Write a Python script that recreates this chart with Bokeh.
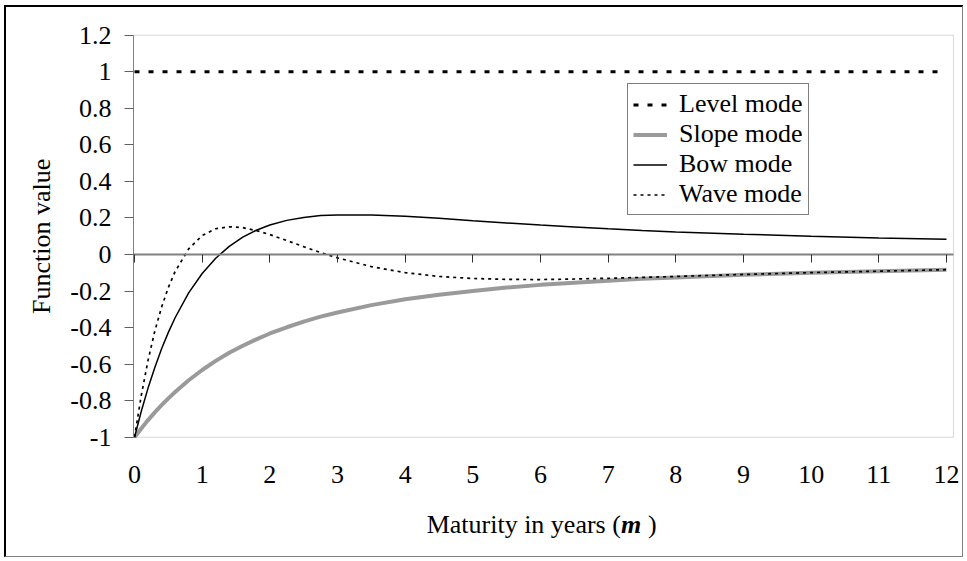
from math import pi
from bokeh.plotting import figure
from bokeh.models import (Range1d, FixedTicker, Legend, LegendItem, Label,
                          LinearAxis, BoxAnnotation)
from bokeh.embed import file_html
from bokeh.resources import INLINE

# ---- data ----
maturity = [0, 0.1, 0.2, 0.3, 0.4, 0.5, 0.6, 0.8, 1.0, 1.2, 1.4, 1.6, 1.8, 2.0,
            2.25, 2.5, 2.75, 3.0, 3.5, 4.0, 4.5, 5.0, 5.5, 6.0, 6.5, 7.0, 7.5,
            8, 9, 10, 11, 12]
slope = [-1.0, -0.952, -0.906, -0.864, -0.824, -0.787, -0.752, -0.688, -0.632,
         -0.582, -0.538, -0.499, -0.464, -0.432, -0.398, -0.367, -0.340, -0.317,
         -0.277, -0.245, -0.220, -0.199, -0.181, -0.166, -0.154, -0.143, -0.133,
         -0.125, -0.111, -0.100, -0.091, -0.083]
bow = [-1.0, -0.858, -0.731, -0.618, -0.516, -0.426, -0.346, -0.210, -0.104,
       -0.020, 0.045, 0.095, 0.133, 0.162, 0.187, 0.203, 0.213, 0.217, 0.217,
       0.209, 0.198, 0.185, 0.173, 0.161, 0.151, 0.141, 0.132, 0.124, 0.111,
       0.100, 0.091, 0.083]
wave = [-1.0, -0.771, -0.579, -0.419, -0.288, -0.180, -0.093, 0.031, 0.104,
        0.141, 0.152, 0.147, 0.131, 0.109, 0.077, 0.043, 0.011, -0.018, -0.066,
        -0.099, -0.120, -0.131, -0.136, -0.137, -0.134, -0.130, -0.125, -0.120,
        -0.109, -0.099, -0.091, -0.083]
level_m = [0, 12]
level = [1.0, 1.0]

x_ticks = [0, 1, 2, 3, 4, 5, 6, 7, 8, 9, 10, 11, 12]
y_ticks = [-1, -0.8, -0.6, -0.4, -0.2, 0, 0.2, 0.4, 0.6, 0.8, 1, 1.2]
y_labels = ["-1", "-0.8", "-0.6", "-0.4", "-0.2", "0", "0.2", "0.4", "0.6", "0.8", "1", "1.2"]
series_names = ["Level mode", "Slope mode", "Bow mode", "Wave mode"]
x_title = "Maturity in years ("
x_title_var = "m"
y_title = "Function value"

# ---- layout / style ----
FONT = "Liberation Serif"
FS = "26px"
Y_MIN, Y_MAX = -1, 1.2            # plot-area value limits
PLOT_X0, PLOT_X1 = -0.015, 12.103  # plot-area horizontal limits

p = figure(output_backend="svg", toolbar_location=None,
           width=959, height=552,
           min_border_left=0, min_border_right=0, min_border_top=0, min_border_bottom=0,
           x_axis_location=None, y_axis_location=None,
           x_range=Range1d(-1.892, 12.281), y_range=Range1d(-1.669, 1.352))
p.styles = {"margin-left": "4px", "margin-top": "5px",
            "border-left": "2px solid #000000", "border-top": "2px solid #000000",
            "border-right": "1px solid #808080", "border-bottom": "1px solid #808080"}
p.background_fill_color = "white"
p.border_fill_color = "white"
p.outline_line_color = None
p.grid.visible = False

# plot-area frame
p.add_layout(BoxAnnotation(left=PLOT_X0, right=PLOT_X1, bottom=Y_MIN, top=Y_MAX,
                           fill_color=None, line_color="#808080", line_width=1,
                           level="underlay"))

# y axis on the left edge of the plot area
ya = LinearAxis(fixed_location=PLOT_X0, bounds=(Y_MIN, Y_MAX))
ya.ticker = FixedTicker(ticks=y_ticks)
ya.major_label_overrides = {t: l for t, l in zip(y_ticks, y_labels)}
ya.axis_line_color = "#808080"
ya.major_tick_line_color = "#606060"
ya.major_tick_out = 9
ya.major_tick_in = 0
ya.minor_tick_line_color = None
ya.major_label_standoff = 13
ya.major_label_text_font = FONT
ya.major_label_text_font_size = FS
ya.major_label_text_color = "black"
p.add_layout(ya, "left")

# horizontal axis line at value 0 with downward ticks
za = LinearAxis(fixed_location=0, bounds=(PLOT_X0, PLOT_X1))
za.ticker = FixedTicker(ticks=x_ticks)
za.axis_line_color = "#808080"
za.axis_line_width = 2
za.major_tick_line_color = "#303030"
za.major_tick_out = 8
za.major_tick_in = 0
za.minor_tick_line_color = None
za.major_label_text_alpha = 0
p.add_layout(za, "below")

# category labels at the bottom of the plot area
xa = LinearAxis(fixed_location=Y_MIN)
xa.ticker = FixedTicker(ticks=x_ticks)
xa.axis_line_color = None
xa.major_tick_line_color = None
xa.minor_tick_line_color = None
xa.major_label_standoff = 23
xa.major_label_text_font = FONT
xa.major_label_text_font_size = FS
xa.major_label_text_color = "black"
p.add_layout(xa, "below")

r_level = p.line(level_m, level, line_color="black", line_width=3, line_dash="5 9")
r_slope = p.line(maturity, slope, line_color="#9a9a9a", line_width=4)
r_bow = p.line(maturity, bow, line_color="black", line_width=1.5)
r_wave = p.line(maturity, wave, line_color="black", line_width=1.7, line_dash="3 4")

legend = Legend(items=[LegendItem(label=n, renderers=[r])
                       for n, r in zip(series_names, [r_level, r_slope, r_bow, r_wave])],
                location=(621, 344))
legend.label_text_font = FONT
legend.label_text_font_size = FS
legend.label_text_color = "black"
legend.glyph_width = 34
legend.glyph_height = 29
legend.label_height = 29
legend.label_standoff = 12
legend.spacing = 0
legend.padding = 5
legend.margin = 0
legend.border_line_color = "#000000"
legend.border_line_width = 1
legend.background_fill_color = "white"
legend.background_fill_alpha = 1
p.add_layout(legend, "center")

# axis titles
p.add_layout(Label(text=y_title, x=PLOT_X0, x_offset=-92, y=(Y_MIN + Y_MAX) / 2,
                   angle=pi / 2, text_align="center", text_baseline="middle",
                   text_font=FONT, text_font_size=FS, text_color="black"))
common = dict(x=6.05, y=-1.48, text_baseline="middle", text_font=FONT,
              text_font_size=FS, text_color="black")
p.add_layout(Label(text=x_title, x_offset=77, text_align="right", **common))
p.add_layout(Label(text=x_title_var, x_offset=77, text_align="left",
                   text_font_style="bold italic", **common))
p.add_layout(Label(text=")", x_offset=104, text_align="left", **common))

open("out.html", "w").write(file_html(p, INLINE))
